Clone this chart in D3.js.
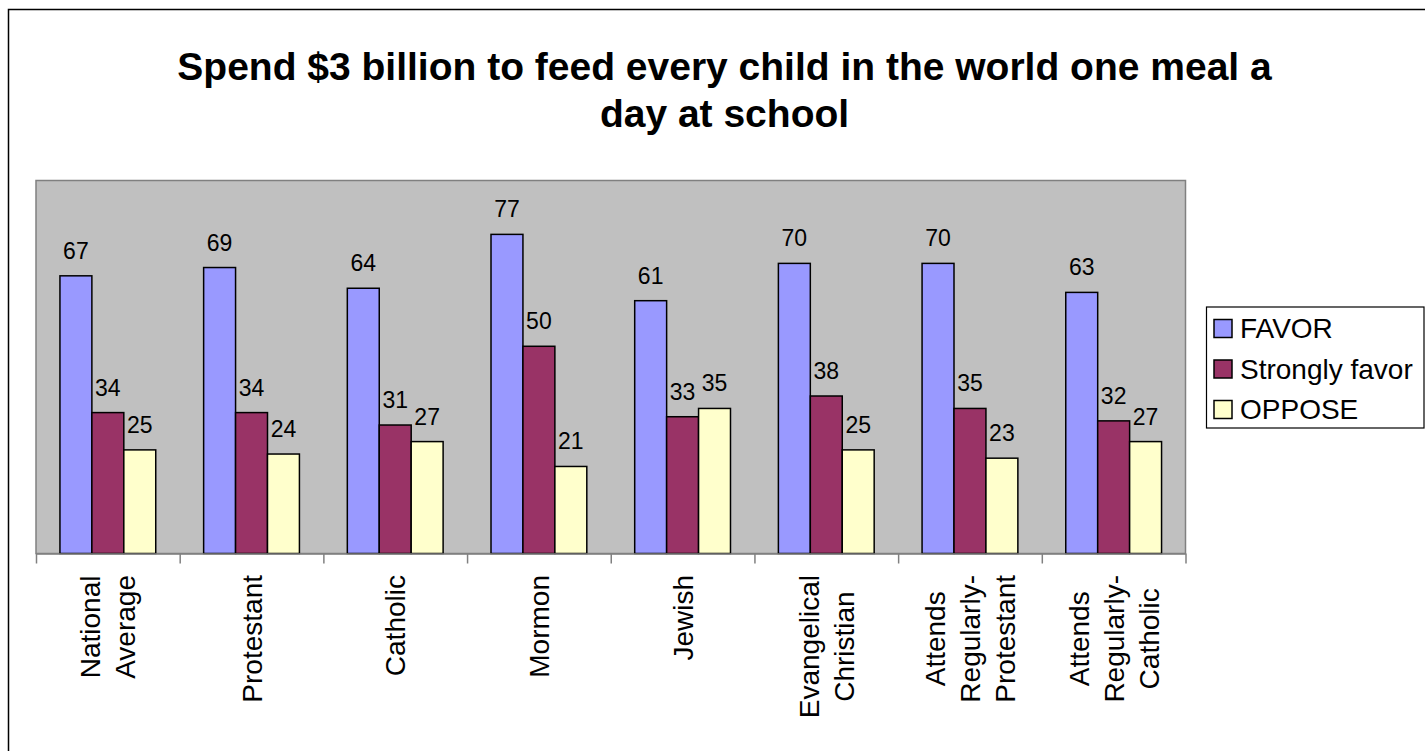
<!DOCTYPE html>
<html>
<head>
<meta charset="utf-8">
<script src="https://cdn.jsdelivr.net/npm/d3@7"></script>
<style>
  html, body { margin: 0; padding: 0; background: #fff; }
  svg { display: block; }
  text { font-family: "Liberation Sans", Arial, Helvetica, sans-serif; fill: #000; }
</style>
</head>
<body>
<svg id="chart" width="1425" height="751"></svg>
<script>
// ---- data ----
const titleLines = ["Spend $3 billion to feed every child in the world one meal a", "day at school"];
const categories = ["National\nAverage", "Protestant", "Catholic", "Mormon", "Jewish",
  "Evangelical\nChristian", "Attends\nRegularly-\nProtestant", "Attends\nRegularly-\nCatholic"];
const seriesNames = ["FAVOR", "Strongly favor", "OPPOSE"];
const favor = [67, 69, 64, 77, 61, 70, 70, 63];
const stronglyFavor = [34, 34, 31, 50, 33, 38, 35, 32];
const oppose = [25, 24, 27, 21, 35, 25, 23, 27];
const seriesColors = ["#9999FF", "#993366", "#FFFFCC"];
const yDomain = [0, 90];

const seriesValues = [favor, stronglyFavor, oppose];

// ---- layout ----
const svg = d3.select("#chart");
const plot = { left: 36, right: 1185.5, top: 180.5, bottom: 553.5 };

// outer chart frame (extends beyond the visible area)
svg.append("rect")
  .attr("x", 8.5).attr("y", 9.5)
  .attr("width", 1432).attr("height", 760)
  .attr("fill", "#fff").attr("stroke", "#000").attr("stroke-width", 1.5);

// title
svg.append("g").selectAll("text").data(titleLines).join("text")
  .attr("x", 724.5)
  .attr("y", (d, i) => 80 + i * 47)
  .attr("text-anchor", "middle")
  .attr("font-size", 39)
  .attr("font-weight", "bold")
  .text(d => d);

// scales
const x0 = d3.scaleBand().domain(categories).range([plot.left, plot.right]).padding(0);
const x1 = d3.scaleBand().domain(seriesNames).range([0, x0.bandwidth()])
  .paddingInner(0).paddingOuter(0.75);
const y = d3.scaleLinear().domain(yDomain).range([plot.bottom, plot.top]);

// plot area
svg.append("rect")
  .attr("x", plot.left).attr("y", plot.top)
  .attr("width", plot.right - plot.left).attr("height", plot.bottom - plot.top)
  .attr("fill", "#C0C0C0").attr("stroke", "#808080").attr("stroke-width", 1.5);

// bars
const groups = svg.append("g").selectAll("g").data(categories).join("g")
  .attr("transform", d => `translate(${x0(d)},0)`);

groups.each(function(cat, ci) {
  const g = d3.select(this);
  const rows = seriesNames.map((s, si) => ({ s, si, v: seriesValues[si][ci] }));
  g.selectAll("rect").data(rows).join("rect")
    .attr("x", d => x1(d.s))
    .attr("y", d => y(d.v))
    .attr("width", x1.bandwidth())
    .attr("height", d => y(0) - y(d.v))
    .attr("fill", d => seriesColors[d.si])
    .attr("stroke", "#000").attr("stroke-width", 1.5);
  g.selectAll("text.val").data(rows).join("text")
    .attr("class", "val")
    .attr("x", d => x1(d.s) + x1.bandwidth() / 2)
    .attr("y", d => y(d.v) - 17)
    .attr("text-anchor", "middle")
    .attr("font-size", 23)
    .text(d => d.v);
});

// category axis with ticks at category boundaries
const boundary = d3.scaleLinear().domain([0, categories.length]).range([plot.left, plot.right]);
const axisG = svg.append("g")
  .attr("transform", `translate(0,${plot.bottom})`)
  .call(d3.axisBottom(boundary).ticks(categories.length).tickFormat("").tickSize(10).tickSizeOuter(0));
axisG.selectAll("path, line").attr("stroke", "#808080").attr("stroke-width", 1.5);

// category labels (rotated, multi-line, centred)
const labelTop = 575;
const lineGap = 35;
categories.forEach(cat => {
  const lines = cat.split("\n");
  const cx = x0(cat) + x0.bandwidth() / 2;
  const g = svg.append("g").attr("transform", `translate(${cx},${labelTop}) rotate(-90)`);
  const texts = g.selectAll("text").data(lines).join("text")
    .attr("font-size", 28)
    .attr("text-anchor", "middle")
    .attr("y", (d, i) => 10 + (i - (lines.length - 1) / 2) * lineGap)
    .text(d => d);
  let maxLen = 0;
  texts.each(function() { maxLen = Math.max(maxLen, this.getComputedTextLength()); });
  texts.attr("x", -maxLen / 2);
});

// legend
const legend = svg.append("g");
legend.append("rect")
  .attr("x", 1206.5).attr("y", 307)
  .attr("width", 1424 - 1206.5).attr("height", 121)
  .attr("fill", "#fff").attr("stroke", "#000").attr("stroke-width", 1.2);
const items = legend.selectAll("g.item").data(seriesNames).join("g")
  .attr("class", "item")
  .attr("transform", (d, i) => `translate(0,${i * 40.5})`);
items.append("rect")
  .attr("x", 1214).attr("y", 319.5)
  .attr("width", 18).attr("height", 18)
  .attr("fill", (d, i) => seriesColors[i])
  .attr("stroke", "#000").attr("stroke-width", 1.5);
items.append("text")
  .attr("x", 1240).attr("y", 338)
  .attr("font-size", 28)
  .text(d => d);
</script>
</body>
</html>
